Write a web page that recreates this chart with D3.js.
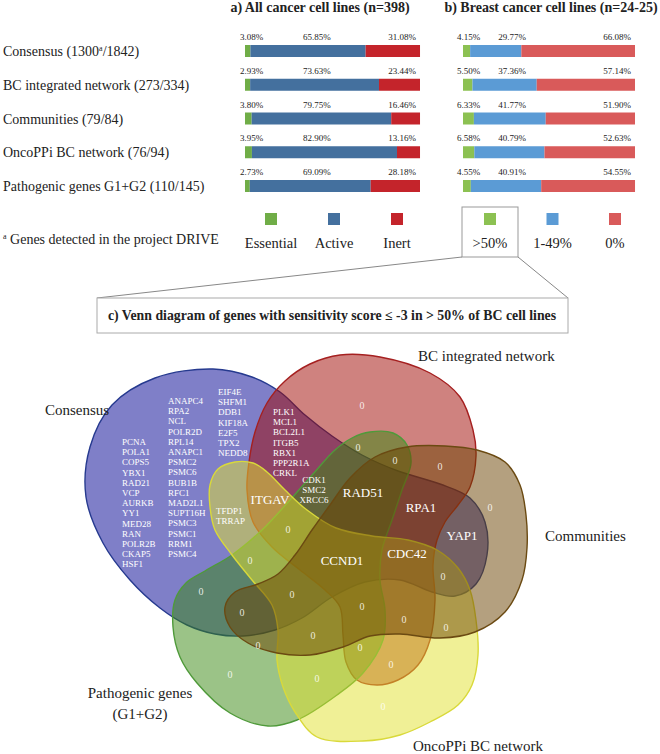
<!DOCTYPE html>
<html lang="en">
<head>
<meta charset="UTF-8">
<script src="https://cdn.jsdelivr.net/npm/d3@7/dist/d3.min.js"></script>
<title>DRIVE sensitivity and Venn diagram</title>
<style>
  * { margin: 0; padding: 0; box-sizing: border-box; }
  body { background: #fff; }
  svg text { font-family: "Liberation Serif", "Times New Roman", serif; fill: #222; }
</style>
</head>
<body>
<svg id="chart" width="660" height="754"></svg>
<script>
// ---- bar chart data ----
var rowNames = ["Consensus", "BC integrated network", "Communities", "OncoPPi BC network", "Pathogenic genes G1+G2"];
var rowDetected = [1300, 273, 79, 76, 110];
var rowTotal = [1842, 334, 84, 94, 145];
var rowNote = ["a", "", "", "", ""];

var allEssential = [3.08, 2.93, 3.80, 3.95, 2.73];
var allActive = [65.85, 73.63, 79.75, 82.90, 69.09];
var allInert = [31.08, 23.44, 16.46, 13.16, 28.18];

var bcOver50 = [4.15, 5.50, 6.33, 6.58, 4.55];
var bc1to49 = [29.77, 37.36, 41.77, 40.79, 40.91];
var bcZero = [66.08, 57.14, 51.90, 52.63, 54.55];

var allKeys = ["Essential", "Active", "Inert"];
var bcKeys = [">50%", "1-49%", "0%"];
var panelTitles = ["a) All cancer cell lines (n=398)", "b) Breast cancer cell lines (n=24-25)"];
var footnote = "Genes detected in the project DRIVE";

// ---- venn data ----
var vennSets = ["Consensus", "BC integrated network", "Communities", "OncoPPi BC network", "Pathogenic genes", "(G1+G2)"];
var consensusOnly1 = ["PCNA", "POLA1", "COPS5", "YBX1", "RAD21", "VCP", "AURKB", "YY1", "MED28", "RAN", "POLR2B", "CKAP5", "HSF1"];
var consensusOnly2 = ["ANAPC4", "RPA2", "NCL", "POLR2D", "RPL14", "ANAPC1", "PSMC2", "PSMC6", "BUB1B", "RFC1", "MAD2L1", "SUPT16H", "PSMC3", "PSMC1", "RRM1", "PSMC4"];
var consensusOnly3 = ["EIF4E", "SHFM1", "DDB1", "KIF18A", "E2F5", "TPX2", "NEDD8"];
var consensusBC = ["PLK1", "MCL1", "BCL2L1", "ITGB5", "RBX1", "PPP2R1A", "CRKL"];
var consensusBCPatho = ["CDK1", "SMC2", "XRCC6"];
var consensusOnco = ["TFDP1", "TRRAP"];
var singleGenes = ["ITGAV", "RAD51", "RPA1", "YAP1", "CDC42", "CCND1"];
var emptyCounts = [0, 0, 0, 0, 0, 0, 0, 0, 0, 0, 0, 0, 0, 0, 0, 0, 0, 0, 0, 0, 0];

// ---- layout ----
var svg = d3.select("#chart");
var rowY = d3.scalePoint().domain(d3.range(rowNames.length)).range([45, 180]);
var barH = 12;

svg.selectAll(".rowlabel")
  .data(rowNames)
  .enter().append("text")
  .attr("class", "rowlabel")
  .attr("x", 3)
  .attr("y", function (d, i) { return rowY(i) + 11; })
  .style("font-size", "14px")
  .each(function (d, i) {
    var t = d3.select(this);
    t.append("tspan").text(d + " (" + rowDetected[i]);
    if (rowNote[i]) {
      t.append("tspan").attr("dy", -5).style("font-size", "8px").text(rowNote[i]);
      t.append("tspan").attr("dy", 5).text("/" + rowTotal[i] + ")");
    } else {
      t.append("tspan").text("/" + rowTotal[i] + ")");
    }
  });

function drawPanel(x, series, colors, midAt, leftPad, title, titleX) {
  var g = svg.append("g");
  g.append("text")
    .attr("x", titleX).attr("y", 12)
    .attr("text-anchor", "middle")
    .style("font-size", "14px").style("font-weight", "bold")
    .text(title);

  var fmt = function (v) { return v.toFixed(2) + "%"; };
  rowNames.forEach(function (name, i) {
    var acc = 0;
    series.forEach(function (s, j) {
      g.append("rect")
        .attr("x", x(acc))
        .attr("y", rowY(i))
        .attr("width", x(acc + s[i]) - x(acc))
        .attr("height", barH)
        .attr("fill", colors[j]);
      acc += s[i];
    });
    var ly = rowY(i) - 5;
    g.append("text").attr("x", x(0) - leftPad).attr("y", ly)
      .style("font-size", "9px").attr("fill", "#333").text(fmt(series[0][i]));
    g.append("text").attr("x", x(midAt)).attr("y", ly).attr("text-anchor", "middle")
      .style("font-size", "9px").attr("fill", "#333").text(fmt(series[1][i]));
    g.append("text").attr("x", x(100) - 4).attr("y", ly).attr("text-anchor", "end")
      .style("font-size", "9px").attr("fill", "#333").text(fmt(series[2][i]));
  });
}

var xA = d3.scaleLinear().domain([0, 100]).range([245, 420]);
var xB = d3.scaleLinear().domain([0, 100]).range([463, 635]);
var colA = ["#70ad47", "#44709e", "#c4242b"];
var colB = ["#8cc152", "#5b9bd5", "#d95a5a"];
drawPanel(xA, [allEssential, allActive, allInert], colA, 41, 5, panelTitles[0], 320);
drawPanel(xB, [bcOver50, bc1to49, bcZero], colB, 28.5, 6, panelTitles[1], 551);

// legends
var legA = d3.scalePoint().domain(allKeys).range([271, 397]);
var legB = d3.scalePoint().domain(bcKeys).range([490, 615]);
[[legA, allKeys, colA], [legB, bcKeys, colB]].forEach(function (p) {
  p[1].forEach(function (k, j) {
    svg.append("rect").attr("x", p[0](k) - 6).attr("y", 213).attr("width", 12).attr("height", 12).attr("fill", p[2][j]);
    svg.append("text").attr("x", p[0](k)).attr("y", 248).attr("text-anchor", "middle")
      .style("font-size", "14.5px").text(k);
  });
});

var fn = svg.append("text").attr("x", 3).attr("y", 244).style("font-size", "14px");
fn.append("tspan").attr("dy", -5).style("font-size", "8px").text(rowNote[0]);
fn.append("tspan").attr("dy", 5).text(" " + footnote);

// zoom box + connectors
svg.append("rect").attr("x", 462).attr("y", 207).attr("width", 56).attr("height", 50)
  .attr("fill", "none").attr("stroke", "#999");
svg.append("line").attr("x1", 462).attr("y1", 257).attr("x2", 97).attr("y2", 298).attr("stroke", "#888");
svg.append("line").attr("x1", 518).attr("y1", 257).attr("x2", 568).attr("y2", 298).attr("stroke", "#888");
svg.append("rect").attr("x", 97).attr("y", 298).attr("width", 471).attr("height", 35)
  .attr("fill", "#fff").attr("stroke", "#aaa");
svg.append("text").attr("x", 332).attr("y", 320).attr("text-anchor", "middle")
  .style("font-size", "13.8px").style("font-weight", "bold")
  .text("c) Venn diagram of genes with sensitivity score \u2264 -3 in > 50% of BC cell lines");

// ---- venn ----
var vx = d3.scaleLinear().domain([0, 520]).range([80, 600]);
var vy = d3.scaleLinear().domain([0, 410]).range([340, 750]);
var outline = d3.line()
  .x(function (d) { return vx(d[0]); })
  .y(function (d) { return vy(d[1]); })
  .curve(d3.curveCatmullRomClosed.alpha(0.5));

var outlines = {
  consensus: [[133,29],[172,37],[200,52],[225,75],[252,96],[282,115],[318,131],[360,144],[390,158],[405,182],[407,215],[396,244],[375,256],[352,252],[320,240],[285,242],[252,257],[222,278],[195,290],[163,296],[135,294],[107,285],[80,268],[50,240],[23,203],[6,157],[10,107],[32,65],[75,38]],
  bc: [[167,150],[169,122],[175,92],[187,63],[205,41],[230,24],[260,15],[300,17],[350,33],[380,57],[393,90],[396,116],[390,147],[378,165],[365,182],[357,200],[353,225],[355,260],[350,300],[338,325],[318,340],[297,345],[277,340],[266,322],[263,295],[260,267],[245,250],[220,230],[192,207],[173,182]],
  communities: [[295,117],[327,107],[365,106],[397,110],[425,122],[440,145],[446,175],[447,208],[442,240],[425,272],[395,292],[360,298],[320,294],[290,296],[263,307],[230,315],[197,313],[168,303],[150,287],[145,267],[155,252],[178,244],[198,234],[215,215],[232,190],[250,165],[270,138]],
  oncoppi: [[237,397],[283,401],[320,395],[350,382],[378,365],[392,345],[398,315],[396,280],[390,250],[378,228],[357,210],[328,200],[292,196],[256,188],[227,170],[205,150],[187,132],[173,123],[155,122],[138,129],[130,145],[130,167],[135,190],[152,215],[172,240],[192,265],[198,290],[197,320],[203,347],[215,372]],
  patho: [[290,92],[313,93],[327,105],[331,123],[322,150],[312,180],[302,210],[300,240],[305,270],[303,300],[283,333],[257,355],[217,380],[188,386],[150,373],[117,343],[100,317],[93,287],[95,260],[106,243],[125,231],[152,215],[182,190],[210,160],[233,134],[255,110],[272,98]]
};
var drawOrder = [
  { key: "consensus", fill: "#000091", stroke: "#263a8f" },
  { key: "bc", fill: "#9f0500", stroke: "#a52020" },
  { key: "patho", fill: "#37870f", stroke: "#4f9a3a" },
  { key: "oncoppi", fill: "#e1e12d", stroke: "#d9d93a" },
  { key: "communities", fill: "#694100", stroke: "#6b4a12" }
];
var vg = svg.append("g");
vg.selectAll("path.set")
  .data(drawOrder)
  .enter().append("path")
  .attr("class", "set")
  .attr("d", function (d) { return outline(outlines[d.key]); })
  .attr("fill", function (d) { return d.fill; })
  .attr("fill-opacity", 0.5)
  .attr("stroke", function (d) { return d.stroke; })
  .attr("stroke-width", 1.4);

// set names
var setNamePos = [[-35, 75, "start"], [338, 21, "start"], [465, 201, "start"], [333, 411, "start"], [60, 358, "middle"], [60, 379, "middle"]];
vennSets.forEach(function (name, i) {
  svg.append("text")
    .attr("x", vx(setNamePos[i][0])).attr("y", vy(setNamePos[i][1]))
    .attr("text-anchor", setNamePos[i][2])
    .style("font-size", "15px").text(name);
});

// gene lists
var listPos = [
  [consensusOnly1, 42, 105, "start"],
  [consensusOnly2, 88, 64, "start"],
  [consensusOnly3, 138, 55, "start"],
  [consensusBC, 193, 75, "start"],
  [consensusBCPatho, 234, 143, "middle"],
  [consensusOnco, 136, 174, "start"]
];
listPos.forEach(function (l) {
  l[0].forEach(function (gname, k) {
    vg.append("text")
      .attr("x", vx(l[1])).attr("y", vy(l[2] + k * 10.2))
      .attr("text-anchor", l[3])
      .style("font-size", "9px").style("fill", "#fff")
      .text(gname);
  });
});

var singlePos = [[190, 164], [283, 157], [341, 172], [382, 200], [327, 218], [262, 225]];
singleGenes.forEach(function (gname, i) {
  vg.append("text")
    .attr("x", vx(singlePos[i][0])).attr("y", vy(singlePos[i][1]))
    .attr("text-anchor", "middle")
    .style("font-size", "13px").style("fill", "#fff")
    .text(gname);
});

var zeroPos = [[282,65],[278,107],[315,120],[360,126],[410,167],[208,189],[170,220],[121,251],[212,254],[162,272],[282,266],[363,236],[324,279],[366,287],[233,295],[178,305],[280,307],[311,324],[150,334],[237,338],[303,366]];
emptyCounts.forEach(function (c, i) {
  vg.append("text")
    .attr("x", vx(zeroPos[i][0])).attr("y", vy(zeroPos[i][1]) + 3.5)
    .attr("text-anchor", "middle")
    .style("font-size", "10px").style("fill", "#fff").style("fill-opacity", 0.85)
    .text(c);
});
</script>
</body>
</html>
